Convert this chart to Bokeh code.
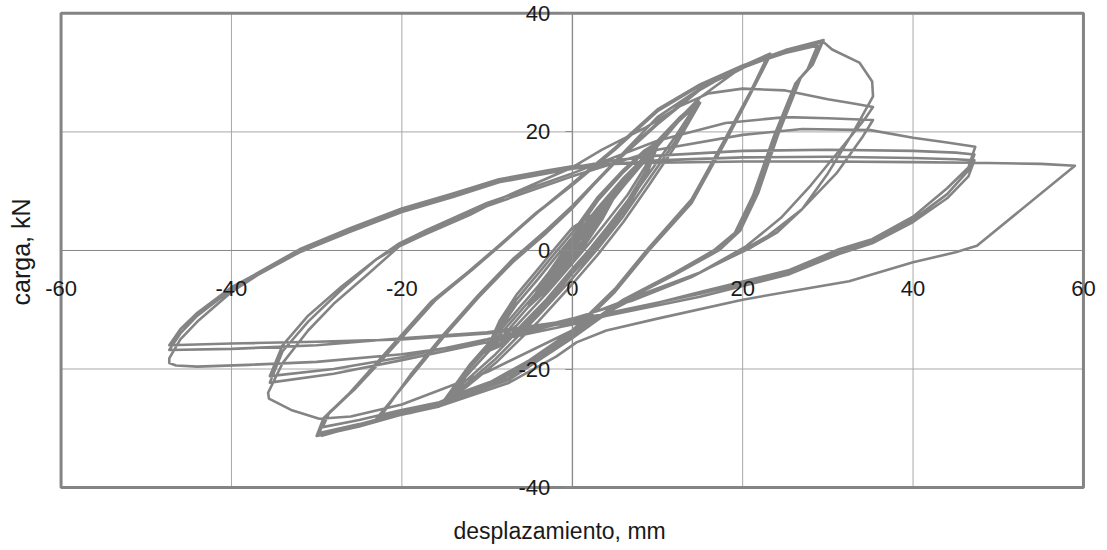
from bokeh.plotting import figure
from bokeh.models import LinearAxis, FixedTicker, Title
from bokeh.embed import file_html
from bokeh.resources import INLINE

# ---------------- data ----------------
x_ticks = [-60, -40, -20, 0, 20, 40, 60]
y_ticks = [-40, -20, 0, 20, 40]
x_title = "desplazamiento, mm"
y_title = "carga, kN"

# cycles at +/-5 mm
disp_05 = [0, 2.5, 5.0, 3.4, 1.2, 0, -2.5, -5.0, -3.5, -1.3, 0, 2.5, 5.1, 3.5, 1.3, 0,
           -2.5, -5.1, -3.6, -1.4, 0, 2.5, 5.2, 3.5, 1.3, 0, -2.5, -5.2, -3.6, -1.4, 0]
load_05 = [0, 5.0, 9.4, 5.9, 1.6, -0.6, -4.9, -9.2, -6.3, -1.9, 0.6, 5.3, 9.6, 5.6, 1.2, -1.2,
           -5.4, -9.4, -5.9, -1.4, 1.2, 5.8, 9.7, 5.2, 0.6, -1.8, -6.0, -9.6, -5.5, -0.9, 1.8]

# cycles at +/-10 mm
disp_10 = [3, 6, 8.5, 10.0, 8.6, 6.5, 4, 2, 0, -3, -6.5, -8.6, -10.0, -8.5, -6.5, -4, -2, 0,
           3, 6, 8.5, 10.1, 8.7, 6.6, 4.1, 2.1, 0, -3, -6.5, -8.6, -10.1, -8.5, -6.5, -4, -2, 0,
           3, 6, 8.5, 10.2, 8.8, 6.7, 4.2, 2.2, 0, -3, -6.5, -8.6, -10.2, -8.5, -6.5, -4, -2, 0]
load_10 = [7.2, 12.2, 15.8, 17.8, 14.2, 9.4, 4.8, 1.2, -2.2, -7.2, -12.6, -15.2, -16.8, -13.2, -9.0, -4.8, -1.2, 2.2,
           8.4, 13.2, 16.6, 18.2, 13.6, 8.6, 3.9, 0.3, -3.1, -8.2, -13.4, -15.8, -17.0, -12.5, -8.2, -3.9, -0.4, 3.0,
           9.0, 13.6, 16.9, 18.4, 13.0, 7.9, 3.1, -0.5, -3.9, -9.0, -14.0, -16.2, -17.2, -11.8, -7.4, -3.1, 0.4, 3.8]

# cycles at +/-15 mm
disp_15 = [3, 6, 10, 12.5, 14.8, 12, 9, 6, 3, 0, -4, -9, -12.5, -15.0, -12, -8, -4, -1, 0,
           3, 6, 10, 12.5, 14.9, 12, 9, 6, 3, 0, -4, -9, -12.5, -15.1, -12, -8, -4, -1, 0,
           3, 6, 10, 12.5, 15.0, 12, 9, 6, 3, 0, -4, -9, -12.5, -15.2, -12, -8, -4, -1, 0]
load_15 = [6.6, 11.8, 18.5, 22.3, 25.2, 19.0, 13.0, 7.0, 1.5, -3.5, -10.0, -17.5, -22.0, -25.3, -20.5, -14.2, -7.6, -2.0, 0.2,
           5.4, 10.8, 17.6, 21.8, 25.0, 18.2, 12.0, 5.8, 0.3, -4.7, -11.0, -18.3, -22.6, -25.5, -19.8, -13.4, -6.8, -1.2, 1.0,
           6.4, 11.6, 18.2, 22.1, 24.9, 17.4, 11.0, 4.8, -0.7, -5.7, -12.0, -19.0, -23.1, -25.6, -19.2, -12.7, -6.0, -0.5, 1.7]

# cycles at +/-23 mm
disp_23 = [5, 10, 15, 19, 23.0, 21, 18, 14, 9, 5, 0, -5, -10, -15, -19, -22.5, -19, -15, -11, -7, -3, 0,
           5, 10, 15, 19, 23.2, 21, 18, 14, 9, 5, 0, -5, -10, -15, -19, -22.8, -19, -15, -11, -7, -3, 0,
           5, 10, 15, 19, 23.3, 21, 18, 14, 9, 5, 0, -5, -10, -15, -19, -23.0, -19, -15, -11, -7, -3, 0]
load_23 = [9.5, 18.5, 25.8, 30.0, 33.0, 27.0, 19.0, 8.6, 0.5, -6.5, -13.5, -18.5, -22.5, -25.5, -27.0, -28.0, -21.0, -14.0, -7.5, -1.5, 3.5, 7.5,
           15.0, 21.5, 27.3, 30.5, 33.2, 26.8, 18.6, 8.2, 0.2, -6.8, -13.8, -18.8, -22.8, -25.8, -27.2, -28.2, -21.2, -14.2, -7.7, -1.8, 3.2, 7.3,
           14.8, 21.3, 27.1, 30.4, 33.1, 26.6, 18.4, 8.0, 0.0, -7.0, -14.0, -19.0, -23.0, -26.0, -27.4, -28.4, -21.4, -14.4, -7.9, -2.0, 3.0, 7.1]

# cycles at +/-30 mm
disp_30 = [5, 10, 15, 20, 25, 29.3, 28, 26.6, 24, 21.6, 19.5, 17, 12, 6, 0, -7.4, -12.4, -15.6, -20.3, -25, -29.7,
           -28.9, -26, -23.5, -16.4, -12, -8.6, -4, 0,
           5, 10, 15, 20, 25, 28.8, 27.6, 26.2, 23.6, 21.2, 19.1, 16.6, 12, 6, 0, -7.4, -12.4, -15.6, -20.3, -25, -29.3,
           -28.5, -25.6, -23, -16, -11.7, -8.3, -3.8, 0,
           5, 10, 15, 20, 25, 29.5, 28.2, 26.8, 24.2, 21.8, 19.7, 17.2, 12, 6, 0, -7.4, -12.4, -15.6, -20.3, -25, -30.0,
           -29.2, -26.3, -23.8, -16.6, -12.2, -8.8, -4.2, 0, 5, 10, 15, 20, 25, 29.3]
load_30 = [15.0, 22.5, 27.3, 30.8, 33.5, 35.2, 31.0, 28.9, 19.5, 9.5, 3.2, 0.0, -4.0, -8.5, -14.5, -21.5, -24.0, -26.0, -27.5, -29.3, -30.8,
           -28.0, -24.0, -20.0, -8.5, -3.5, 0.7, 6.5, 11.0,
           17.0, 23.5, 27.8, 31.0, 33.3, 34.6, 30.5, 28.2, 19.0, 9.2, 3.0, 0.0, -3.8, -8.3, -14.2, -21.0, -23.6, -25.6, -27.0, -28.6, -29.8,
           -27.3, -23.5, -19.5, -8.3, -3.2, 1.0, 6.8, 11.3,
           17.3, 23.8, 28.0, 31.2, 33.7, 35.5, 31.3, 29.1, 19.7, 9.6, 3.3, 0.0, -4.1, -8.6, -14.8, -21.8, -24.3, -26.3, -27.8, -29.7, -31.3,
           -28.3, -24.3, -20.3, -8.7, -3.6, 0.6, 6.4, 11.0, 17.3, 23.8, 28.0, 31.2, 33.8, 35.4]

# cycles at +/-35 mm
disp_35 = [30.5, 33.7, 35.2, 35.3,
           33, 30, 27, 24, 21, 15, 7, 0, -10, -20, -26, -29.7, -33, -35.6, -35.7,
           -34, -31, -28, -24, -20.3, -17.6, -12, -8, -4, 0, 3.5, 8.7, 12.6, 16, 20, 25, 30, 33, 35.3,
           34.5, 32, 28, 24.5, 20.4, 15, 7, 0, -10, -20, -28, -35.5,
           -34, -31, -27, -23, -20.3, -17, -10, 0, 10, 18, 25, 30, 35.3,
           34, 31, 27, 23, 20, 14, 7, 0, -10, -20, -28, -35.5,
           -34, -31, -27, -23, -20.3, -17, -10, 0, 10, 20, 27, 35, 40, 44, 47.3]
load_35 = [33.9, 31.7, 28.5, 26.0,
           20.0, 13.0, 7.0, 3.0, 0.5, -3.7, -8.3, -13.5, -20.5, -26.0, -28.0, -28.4, -26.9, -25.0, -24.0,
           -19.0, -13.5, -9.0, -4.0, 0.7, 2.5, 6.0, 9.0, 11.5, 14.0, 17.0, 20.8, 24.3, 26.5, 27.3, 27.0, 25.5, 24.8, 24.2,
           22.5, 18.0, 11.0, 5.5, 0.7, -3.7, -8.0, -11.8, -15.5, -18.5, -20.8, -22.3,
           -17.0, -12.0, -6.5, -1.5, 1.2, 3.5, 8.0, 13.0, 18.5, 21.5, 22.5, 22.3, 22.0,
           19.0, 13.0, 7.0, 2.5, 0.0, -4.5, -8.5, -11.5, -15.0, -18.0, -20.0, -21.2,
           -16.0, -11.0, -6.0, -1.5, 0.8, 3.0, 7.5, 12.5, 17.0, 19.5, 20.5, 20.3, 19.0, 18.2, 17.5]

# cycles at +/-47 mm
disp_47 = [46.5, 44, 40, 35.2, 31.3, 25.5, 15, 0, -10, -20, -30, -38, -44, -46.5, -47.3, -47.3,
           -46, -44, -40, -36, -32, -26, -20, -14, -8.6, -3, 0, 5, 10, 20, 30, 40, 45, 47.2,
           46.5, 44, 40, 35.2, 31.3, 25.5, 15, 0, -10, -20, -30, -40, -47.3,
           -46, -44, -40, -37.9, -32, -26, -20, -14, -8.6, -3, 0, 5, 10, 20, 30, 40, 45, 47.2,
           46.5, 44, 40, 35.2, 31.3, 25.5, 15, 0, -10, -20, -30, -40, -47.3,
           -46, -44, -40, -37.9, -32, -26, -20, -14, -8.6, -3, 0, 5, 10, 20, 30, 40, 47, 55, 59]
load_47 = [14.0, 10.5, 5.7, 1.9, 0.2, -3.3, -7.0, -12.5, -15.5, -17.5, -18.8, -19.3, -19.6, -19.4, -19.0, -18.2,
           -15.0, -12.0, -7.0, -3.3, 0.0, 3.5, 6.8, 9.3, 11.8, 13.3, 14.0, 15.2, 16.0, 16.8, 17.0, 16.8, 16.5, 16.2,
           13.5, 9.5, 5.2, 1.6, -0.2, -3.7, -7.3, -11.8, -13.8, -14.8, -16.0, -16.6, -16.8,
           -14.0, -11.0, -6.6, -4.9, -0.3, 3.2, 6.5, 9.0, 11.5, 13.0, 13.8, 14.6, 15.2, 15.7, 15.8, 15.6, 15.4, 15.2,
           12.5, 8.8, 4.8, 1.2, -0.6, -4.0, -7.8, -12.2, -14.0, -15.0, -15.4, -15.7, -16.0,
           -13.3, -10.5, -6.2, -4.6, 0.2, 3.8, 7.1, 9.6, 12.0, 13.5, 14.2, 14.6, 14.8, 15.0, 15.0, 14.9, 14.8, 14.6, 14.3]

# final excursion to 59 mm and return
disp_59 = [47.5, 45, 40, 32.5, 26, 20, 10, 4, 0.5, -1.9, -7.4, -15.6, -20.3, -25, -29.5]
load_59 = [0.8, -0.3, -2.0, -5.2, -6.8, -8.3, -11.5, -13.5, -15.5, -17.9, -22.3, -26.3, -27.3, -29.5, -31.3]

disp = disp_05 + disp_10 + disp_15 + disp_23 + disp_30 + disp_35 + disp_47 + disp_59
load = load_05 + load_10 + load_15 + load_23 + load_30 + load_35 + load_47 + load_59

# ---------------- figure ----------------
FONT = "Liberation Sans"
TXT = "#1a1a1a"
GRAY = "#848484"
GRID = "#a8a8a8"

# the frame is a little larger than the plotted box so edge tick labels are not clipped
p = figure(frame_width=1065, frame_height=516, x_range=(-63, 62), y_range=(-45.05, 42),
           output_backend="svg", toolbar_location=None,
           x_axis_location=None, y_axis_location=None,
           min_border_left=35, min_border_right=5, min_border_top=1, min_border_bottom=20,
           background_fill_color="white", border_fill_color="white")
p.title.visible = False
p.outline_line_color = None
p.grid.visible = False

nx, ny = len(x_ticks), len(y_ticks)
# grid lines inside the box
p.segment(x0=x_ticks, x1=x_ticks, y0=[y_ticks[0]] * nx, y1=[y_ticks[-1]] * nx,
          line_color=GRID, line_width=1)
p.segment(x0=[x_ticks[0]] * ny, x1=[x_ticks[-1]] * ny, y0=y_ticks, y1=y_ticks,
          line_color=GRID, line_width=1)

# axes crossing at zero
xax = LinearAxis(fixed_location=0, ticker=FixedTicker(ticks=x_ticks),
                 bounds=(x_ticks[0], x_ticks[-1]),
                 major_label_overrides={t: str(t) for t in x_ticks},
                 axis_line_color="#8a8a8a", axis_line_width=1.2,
                 major_tick_out=0, major_tick_in=0, minor_tick_out=0, minor_tick_in=0,
                 major_label_standoff=31, major_label_text_font=FONT,
                 major_label_text_font_size="22px", major_label_text_color=TXT)
p.add_layout(xax, "below")

yax = LinearAxis(fixed_location=0, ticker=FixedTicker(ticks=y_ticks),
                 bounds=(y_ticks[0], y_ticks[-1]),
                 major_label_overrides={t: str(t) for t in y_ticks},
                 axis_line_color="#8a8a8a", axis_line_width=1.2,
                 major_tick_out=7, major_tick_in=0, major_tick_line_color="#8a8a8a",
                 minor_tick_out=0, minor_tick_in=0,
                 major_label_standoff=15, major_label_text_font=FONT,
                 major_label_text_font_size="22px", major_label_text_color=TXT)
p.add_layout(yax, "left")

# axis titles
ylab = Title(text=y_title, align="left", offset=212, standoff=2, vertical_align="bottom",
             text_font=FONT, text_font_size="25px", text_font_style="normal", text_color=TXT)
p.add_layout(ylab, "left")

xlab = Title(text=x_title, align="left", offset=418, standoff=0, vertical_align="top",
             text_font=FONT, text_font_size="23px", text_font_style="normal", text_color=TXT)
p.add_layout(xlab, "below")

# data curve
p.line(disp, load, line_color=GRAY, line_width=2.6, line_join="round")

# plot-area border
p.quad(left=[x_ticks[0]], right=[x_ticks[-1]], bottom=[y_ticks[0]], top=[y_ticks[-1]],
       fill_color=None, line_color=GRAY, line_width=3)

open("out.html", "w").write(file_html(p, INLINE))
